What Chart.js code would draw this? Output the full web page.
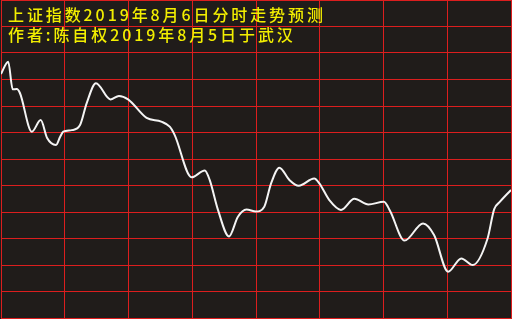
<!DOCTYPE html>
<html>
<head>
<meta charset="utf-8">
<script src="https://cdn.jsdelivr.net/npm/chart.js@4"></script>
<style>
  html, body { margin: 0; padding: 0; background: #201c1a; }
  canvas { display: block; }
</style>
</head>
<body>
<canvas id="trendChart" width="512" height="319"></canvas>
<script>
// minutes since the open (0..240) and predicted level, in grid units (0..12)
const minutes = [0, 3.4, 5.5, 7.4, 8.9, 14.5, 18.7, 21.7, 25.9, 27.8, 29.3, 33.3, 37.2, 40.3, 44.7,
  51.5, 55.5, 59.8, 68.5, 75.4, 79.4, 81.7, 89.7, 95.9, 98.2, 102.1, 107.3, 111.5, 115.5, 120,
  123.9, 127.1, 131.0, 135.7, 140.1, 147.4, 149.8, 154.5, 160, 166.3, 172.9, 180.2, 183.1, 189.9,
  198.6, 203.8, 210.4, 216.6, 222.0, 228.9, 232.1, 234.5, 240];
const levels = [9.21, 9.67, 8.63, 8.64, 8.49, 7.03, 7.47, 6.79, 6.53, 6.83, 7.03, 7.09, 7.28, 8.10, 8.86,
  8.25, 8.38, 8.25, 7.55, 7.41, 7.22, 6.91, 5.31, 5.57, 5.21, 4.08, 3.08, 3.82, 4.09, 4.02,
  4.20, 5.08, 5.67, 5.21, 4.99, 5.26, 5.08, 4.45, 4.08, 4.50, 4.28, 4.39, 4.04, 2.92,
  3.57, 3.13, 1.75, 2.25, 2.00, 2.98, 4.11, 4.36, 4.83];

const titleLines = ["上证指数2019年8月6日分时走势预测", "作者:陈自权2019年8月5日于武汉"];

const gridRed = "#dc1e1e";

const textPlugin = {
    id: "yellowText",
    beforeDraw(chart) {
        const c = chart.ctx;
        c.save();
        c.fillStyle = "#201c1a";
        c.fillRect(0, 0, chart.width, chart.height);
        c.restore();
    },
    afterDraw(chart) {
        const c = chart.ctx;
        c.save();
        c.fillStyle = "#f2ee00";
        c.font = "500 16px 'Noto Sans CJK SC'";
        c.textBaseline = "alphabetic";
        if ("letterSpacing" in c) c.letterSpacing = "2.9px";
        c.fillText(titleLines[0], 8, 21);
        c.fillText(titleLines[1], 8, 41);
        c.restore();
    }
};

new Chart(document.getElementById("trendChart").getContext("2d"), {
    type: "line",
    data: {
        datasets: [{
            data: minutes.map((m, i) => ({ x: m, y: levels[i] })),
            borderColor: "#f4f4f4",
            borderWidth: 2,
            pointRadius: 0,
            cubicInterpolationMode: "monotone",
            fill: false
        }]
    },
    options: {
        responsive: false,
        animation: false,
        layout: { padding: { left: 1, right: 1, top: 0, bottom: 1 } },
        plugins: { legend: { display: false }, tooltip: { enabled: false } },
        scales: {
            x: {
                type: "linear",
                min: 0,
                max: 240,
                ticks: { display: false, stepSize: 30 },
                grid: { color: gridRed, lineWidth: 1, drawTicks: false },
                border: { color: gridRed }
            },
            y: {
                min: 0,
                max: 12,
                ticks: { display: false, stepSize: 1 },
                grid: { color: gridRed, lineWidth: 1, drawTicks: false },
                border: { color: gridRed }
            }
        }
    },
    plugins: [textPlugin]
});
</script>
</body>
</html>
